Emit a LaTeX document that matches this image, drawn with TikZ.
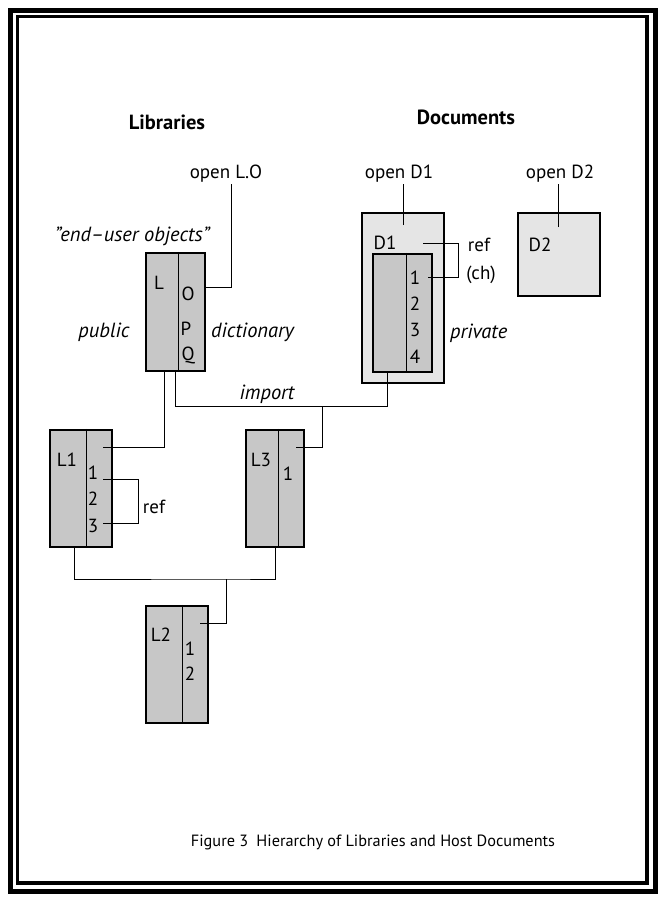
\documentclass[tikz,border=0pt]{standalone}
\usepackage{fontspec}
\setmainfont{PT Sans}
\begin{document}
\begin{tikzpicture}[x=1pt,y=-1pt,
  libbox/.style={draw, line width=2.2pt, fill=black!22, inner sep=0pt},
  docbox/.style={draw, line width=2.2pt, fill=black!10, inner sep=0pt},
  lbl/.style={inner sep=0pt, anchor=base, font=\fontsize{19}{19}\selectfont},
  ilbl/.style={inner sep=0pt, anchor=base, font=\fontsize{20.5}{20.5}\selectfont\itshape},
  head/.style={inner sep=0pt, anchor=base, font=\fontsize{20.5}{20.5}\selectfont\bfseries},
  captxt/.style={inner sep=0pt, anchor=base, font=\fontsize{16.3}{16.3}\selectfont},
  conn/.style={line width=1pt},
  divider/.style={line width=1pt}]
\useasboundingbox (0,0) rectangle (660,900);
% frame
\draw[line width=5pt] (10,10.5) rectangle (655,891);
\draw[line width=3.5pt] (17.5,16.5) rectangle (647,883);

% headings
\node[head] (hlib) at (167,129) {Libraries};
\node[head] (hdoc) at (466,124) {Documents};

% library boxes
\node[libbox, minimum width=59pt, minimum height=118pt] (L) at (175.5,312) {};
\draw[divider] ([xshift=2.5pt]L.north) -- ([xshift=2.5pt]L.south);
\node[libbox, minimum width=62pt, minimum height=117pt] (L1) at (81,488.5) {};
\draw[divider] ([xshift=5.7pt]L1.north) -- ([xshift=5.7pt]L1.south);
\node[libbox, minimum width=58pt, minimum height=117pt] (L3) at (275,488.5) {};
\draw[divider] ([xshift=3.3pt]L3.north) -- ([xshift=3.3pt]L3.south);
\node[libbox, minimum width=62pt, minimum height=117pt] (L2) at (177,664.5) {};
\draw[divider] ([xshift=5.7pt]L2.north) -- ([xshift=5.7pt]L2.south);

% document boxes
\node[docbox, minimum width=82pt, minimum height=170pt] (D1) at (403,298) {};
\node[libbox, minimum width=59pt, minimum height=118pt] (D1in) at (402.5,313) {};
\draw[divider] ([xshift=4.2pt]D1in.north) -- ([xshift=4.2pt]D1in.south);
\node[docbox, minimum width=82pt, minimum height=83pt] (D2) at (559,254.5) {};

% box texts
\node[lbl] (tL) at (159,289) {L};
\node[lbl] (tO) at (188,300) {O};
\node[lbl] (tP) at (186,335) {P};
\node[lbl] (tQ) at (188,360) {Q};

\node[lbl] (tL1) at (67,466) {L1};
\node[lbl] (tL1a) at (93,479) {1};
\node[lbl] (tL1b) at (93,505) {2};
\node[lbl] (tL1c) at (93,532) {3};

\node[lbl] (tL3) at (261,466) {L3};
\node[lbl] (tL3a) at (288,480) {1};

\node[lbl] (tL2) at (161,641) {L2};
\node[lbl] (tL2a) at (190,655) {1};
\node[lbl] (tL2b) at (190,680) {2};

\node[lbl] (tD1) at (385,249) {D1};
\node[lbl] (tD1a) at (415,284) {1};
\node[lbl] (tD1b) at (415,310) {2};
\node[lbl] (tD1c) at (415,336) {3};
\node[lbl] (tD1d) at (415,363) {4};
\node[lbl] (tD2) at (540,251) {D2};

% outside labels
\node[lbl] (oLO) at (226,178) {open L.O};
\node[lbl] (oD1) at (399,178) {open D1};
\node[lbl] (oD2) at (560,178) {open D2};
\node[ilbl] (eu) at (132,241) {\char34 end--user objects\char34};
\node[ilbl] (pub) at (104,337) {public};
\node[ilbl, anchor=base west] (dic) at (211,337) {dictionary};
\node[ilbl, anchor=base west] (priv) at (450,338) {private};
\node[ilbl] (imp) at (267,399) {import};
\node[lbl] (ref1) at (154,513) {ref};
\node[lbl] (ref2) at (479,251) {ref};
\node[lbl] (ch) at (481,279) {(ch)};

\node[captxt] (cap) at (373,846) {Figure 3\hspace{0.5em}Hierarchy of Libraries and Host Documents};

% connector points
\coordinate (pLO) at (231,184);
\coordinate (pO) at (205,287);
\coordinate (pL1) at (103,447);
\coordinate (pL3) at (296,447);
\coordinate (pL2) at (200,623);
\coordinate (jimp) at (322,406.5);
\coordinate (jbot) at (226,579);
\coordinate (r1a) at (103,479);
\coordinate (r1b) at (103,523);
\coordinate (r2a) at (423,243);
\coordinate (r2b) at (428,277);
\coordinate (pD1) at (403,225);
\coordinate (pD2) at (558,227);

% connectors
\draw[conn] (pLO) |- (pO);
\draw[conn] ([xshift=-11.5pt]L.south) |- (pL1);
\draw[conn] ([xshift=-0.5pt]L.south) |- ([xshift=-15.5pt]D1in.south |- jimp) -- ([xshift=-15.5pt]D1in.south);
\draw[conn] (jimp) |- (pL3);
\draw[conn] ([xshift=-7pt]L1.south) |- (jbot) -| (L3.south);
\draw[conn] (jbot) |- (pL2);
\draw[conn] (r1a) -- ++(35,0) |- (r1b);
\draw[conn] (r2a) -- ++(35,0) |- (r2b);
\draw[conn] (pD1) -- (pD1 |- 0,184);
\draw[conn] (pD2) -- (pD2 |- 0,184);
\end{tikzpicture}
\end{document}
